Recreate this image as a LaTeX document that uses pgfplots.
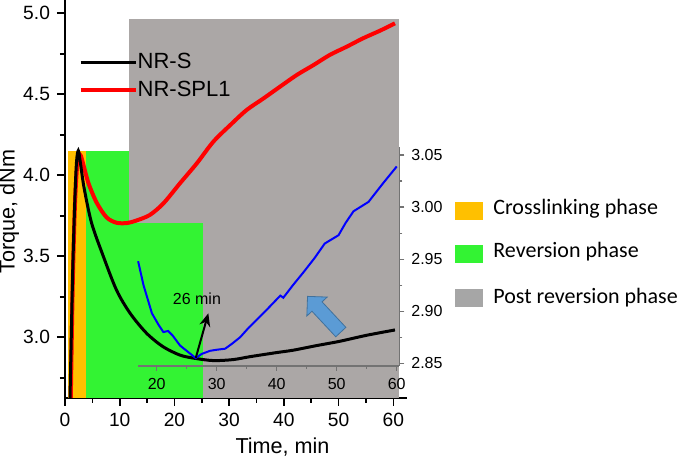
\documentclass[border=0pt]{standalone}
\usepackage{fontspec}
\setmainfont{Liberation Sans}
\newfontfamily\calibri{Carlito}
\usepackage{pgfplots}
\pgfplotsset{compat=1.18}
\usetikzlibrary{arrows.meta, shapes.arrows}

\definecolor{crossph}{RGB}{255,192,0}
\definecolor{revph}{RGB}{51,243,51}
\definecolor{postph}{RGB}{171,167,166}
\definecolor{postkey}{RGB}{166,166,166}
\definecolor{arrowblue}{RGB}{91,155,213}
\definecolor{arrowedge}{RGB}{65,113,156}

\begin{document}
\begin{tikzpicture}
\useasboundingbox (-32.5pt,-30.5pt) rectangle (310pt,199pt);

% main torque curves
\begin{axis}[
    at={(0pt,0pt)}, anchor=south west,
    scale only axis, width=171pt, height=199pt,
    xmin=0, xmax=62.5, ymin=2.625, ymax=5.082,
    axis x line*=bottom, axis y line*=left,
    axis line style={line width=0.9pt},
    xtick={0,10,...,60}, minor xtick={5,15,...,55},
    ytick={3,3.5,4,4.5,5}, minor ytick={2.75,3.25,3.75,4.25,4.75},
    tick align=outside,
    major tick length=4pt, minor tick length=2.5pt,
    tick style={black, line width=0.8pt},
    /pgf/number format/assume math mode=true,
    ticklabel style={font=\fontsize{9.6}{11}\selectfont},
    yticklabel style={/pgf/number format/.cd, fixed, fixed zerofill, precision=1},
    xlabel={Time, min}, ylabel={Torque, dNm},
    label style={font=\fontsize{10.8}{12}\selectfont},
    xlabel style={at={(axis description cs:0.636,-0.1244)}, anchor=center},
    ylabel style={at={(axis description cs:-0.1637,0.4686)}, anchor=center},
    legend image code/.code={\draw[#1] (0pt,0pt) -- (27.5pt,0pt);},
    legend cell align=left,
    legend style={draw=none, fill=none, inner sep=0pt, row sep=1pt,
        at={(0.0389,0.878)}, anchor=north west,
        font=\fontsize{11}{12}\selectfont,
        nodes={inner xsep=0pt, inner ysep=2pt}},
]
% phase areas
\addplot[fill=postph, draw=none, forget plot] coordinates {(11.75,2.625) (61.0,2.625) (61.0,4.963) (11.75,4.963)} -- cycle;
\addplot[fill=revph, draw=none, forget plot] coordinates {(3.75,2.625) (11.75,2.625) (11.75,4.152) (3.75,4.152)} -- cycle;
\addplot[fill=revph, draw=none, forget plot] coordinates {(3.75,2.625) (25.3,2.625) (25.3,3.704) (3.75,3.704)} -- cycle;
\addplot[fill=crossph, draw=none, forget plot] coordinates {(0.6,2.625) (3.75,2.625) (3.75,4.152) (0.6,4.152)} -- cycle;

% NR-SPL1
\addplot[red, line width=2pt, smooth, forget plot] coordinates {
(1.0,2.5) (1.4,3.3) (1.8,3.8) (2.2,4.05) (2.6,4.12) (2.9,4.12) (3.4,4.06)
(4.3,3.95) (5.8,3.83) (7.6,3.74) (9.4,3.707) (11.3,3.705) (13.0,3.72)
(15.5,3.755) (18.0,3.827) (21.0,3.95) (24.1,4.074) (27.1,4.207) (30.2,4.31)
(33.2,4.403) (36.3,4.475) (39.3,4.547) (42.4,4.62) (45.4,4.68) (48.4,4.743)
(51.5,4.794) (54.5,4.846) (57.6,4.893) (60.3,4.938)};

% NR-S
\addplot[black, line width=1.5pt, smooth, forget plot] coordinates {
(0.9,2.6) (1.4,3.395) (1.8,3.85) (2.1,4.08) (2.43,4.152) (2.8,4.08) (3.5,3.92)
(4.87,3.704) (7.0,3.50) (9.43,3.29) (11.9,3.148) (14.9,3.025) (17.9,2.942)
(21.0,2.89) (23.7,2.87) (27.1,2.856) (30.7,2.862) (33.8,2.88) (38.6,2.905)
(41.7,2.92) (45.9,2.948) (50.2,2.975) (55.1,3.012) (60.3,3.045)};

\addlegendimage{black, line width=1.5pt}
\addlegendentry{NR-S}
\addlegendimage{red, line width=2pt}
\addlegendentry{NR-SPL1}
\end{axis}

% inset, zoom on the minimum
\begin{axis}[
    at={(36.65pt,16pt)}, anchor=south west,
    scale only axis, width=130.5pt, height=109.65pt,
    xmin=16.93, xmax=60.43, ymin=2.8474, ymax=3.058,
    axis x line*=bottom, axis y line*=right,
    axis line style={line width=0.6pt, black!55},
    xtick={20,30,...,60}, minor xtick={25,35,...,55},
    ytick={2.85,2.90,2.95,3.00,3.05}, minor ytick={2.875,2.925,2.975,3.025},
    tick align=outside,
    major tick length=2.5pt, minor tick length=1.5pt,
    tick style={black!55, line width=0.6pt},
    /pgf/number format/assume math mode=true,
    ticklabel style={font=\fontsize{8}{9}\selectfont},
    yticklabel style={/pgf/number format/.cd, fixed, fixed zerofill, precision=2},
    clip=false,
]
\addplot[blue, line width=1pt] coordinates {
(16.9,2.948) (17.8,2.925) (19.2,2.898) (20.3,2.887) (21.1,2.880) (21.9,2.881)
(22.6,2.877) (23.9,2.867) (25.2,2.861) (26.5,2.855) (27.5,2.859) (28.9,2.862)
(30.0,2.863) (31.4,2.864) (32.6,2.869) (33.9,2.875) (35.3,2.884) (36.7,2.892)
(38.6,2.903) (40.6,2.915) (41.1,2.913) (42.7,2.925) (44.4,2.937) (46.3,2.951)
(48.0,2.965) (50.3,2.973) (51.5,2.985) (52.8,2.996) (55.3,3.005) (57.6,3.022)
(60.0,3.039)};

\draw[-{Stealth[length=6.5pt,width=5.5pt]}, line width=1pt] (axis cs:26.5,2.855) -- (axis cs:28.6,2.898);
\node[font=\fontsize{8}{9}\selectfont] at (axis cs:26.7,2.912) {26 min};
\node[single arrow, fill=arrowblue, draw=arrowedge, line width=0.4pt,
      inner sep=3.25pt, minimum width=13.5pt, minimum height=24.4pt,
      single arrow head extend=3.5pt, rotate=133] at (axis cs:48.3,2.8947) {};
\end{axis}

% phase key
\fill[crossph] (195pt,89pt) rectangle (209pt,98pt);
\fill[revph] (195pt,67.5pt) rectangle (209pt,76.5pt);
\fill[postkey] (195pt,45.5pt) rectangle (209pt,54.5pt);
\begin{scope}[every node/.style={anchor=base west, inner sep=0pt, font=\calibri\fontsize{11}{13}\selectfont}]
\node at (214pt,91.85pt) {Crosslinking phase};
\node at (214pt,70.35pt) {Reversion phase};
\node at (214pt,47.35pt) {Post reversion phase};
\end{scope}
\end{tikzpicture}
\end{document}
